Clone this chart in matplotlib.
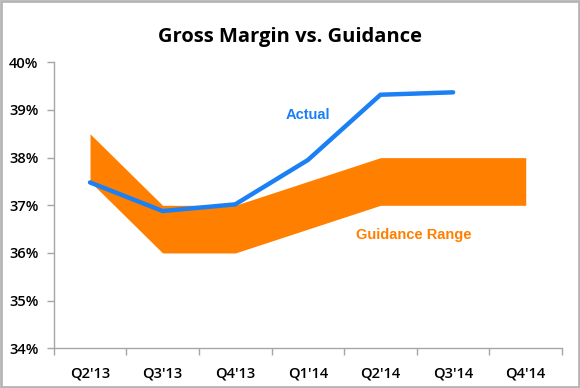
import matplotlib
matplotlib.use("Agg")
import matplotlib.pyplot as plt
from matplotlib.patches import Rectangle
from matplotlib.ticker import FuncFormatter, MultipleLocator

quarters = ["Q2'13", "Q3'13", "Q4'13", "Q1'14", "Q2'14", "Q3'14", "Q4'14"]
guide_low = [37.5, 36.0, 36.0, 36.5, 37.0, 37.0, 37.0]
guide_high = [38.5, 37.0, 37.0, 37.5, 38.0, 38.0, 38.0]
actual = [37.48, 36.88, 37.02, 37.95, 39.32, 39.37]

title = "Gross Margin vs. Guidance"
actual_label = "Actual"
guide_label = "Guidance Range"

BLUE = "#1B80F4"
ORANGE = "#FF7F00"
GRAY = "#A6A6A6"

fig = plt.figure(figsize=(5.8, 3.88), dpi=100)
ax = fig.add_axes([0.0926, 0.1023, 0.8764, 0.7371])

x = list(range(len(quarters)))
ax.fill_between(x, guide_low, guide_high, color=ORANGE, linewidth=0, zorder=2)
ax.plot(x[:len(actual)], actual, color=BLUE, linewidth=3.2, solid_capstyle="round",
        solid_joinstyle="round", zorder=3)

ax.set_xlim(-0.5, len(quarters) - 0.5)
ax.set_ylim(34, 40)
ax.yaxis.set_major_locator(MultipleLocator(1))
ax.yaxis.set_major_formatter(FuncFormatter(lambda v, p: f"{v:.0f}%"))
ax.set_xticks(x)
ax.set_xticklabels(quarters)
ax.set_xticks([i - 0.5 for i in range(len(quarters) + 1)], minor=True)
ax.tick_params(axis="x", which="major", length=0, pad=13)
ax.tick_params(axis="x", which="minor", length=5, color=GRAY, width=1)
ax.tick_params(axis="y", length=5, color=GRAY, width=1, pad=6)

for lab in ax.get_xticklabels() + ax.get_yticklabels():
    lab.set_fontfamily(["Open Sans", "DejaVu Sans"])
    lab.set_fontsize(10.5)
    lab.set_fontweight("semibold")
    lab.set_color("#000000")

for s in ["top", "right"]:
    ax.spines[s].set_visible(False)
for s in ["left", "bottom"]:
    ax.spines[s].set_color(GRAY)
    ax.spines[s].set_linewidth(1)

ax.text(3.0, 38.9, actual_label, color=BLUE, fontsize=10.5, fontweight="bold",
        family=["Liberation Sans", "DejaVu Sans"], ha="center", va="center")
ax.text(4.46, 36.38, guide_label, color=ORANGE, fontsize=10.5, fontweight="bold",
        family=["Liberation Sans", "DejaVu Sans"], ha="center", va="center")

fig.text(0.5, 0.905, title, ha="center", va="center", fontsize=14.5, fontweight="bold",
         family=["Open Sans", "DejaVu Sans"], color="#000000")

fig.patches.append(Rectangle((0.002, 0.003), 0.996, 0.994, transform=fig.transFigure,
                             fill=False, edgecolor="#B5B5B5", linewidth=2))

fig.savefig("out.png", dpi=100)
